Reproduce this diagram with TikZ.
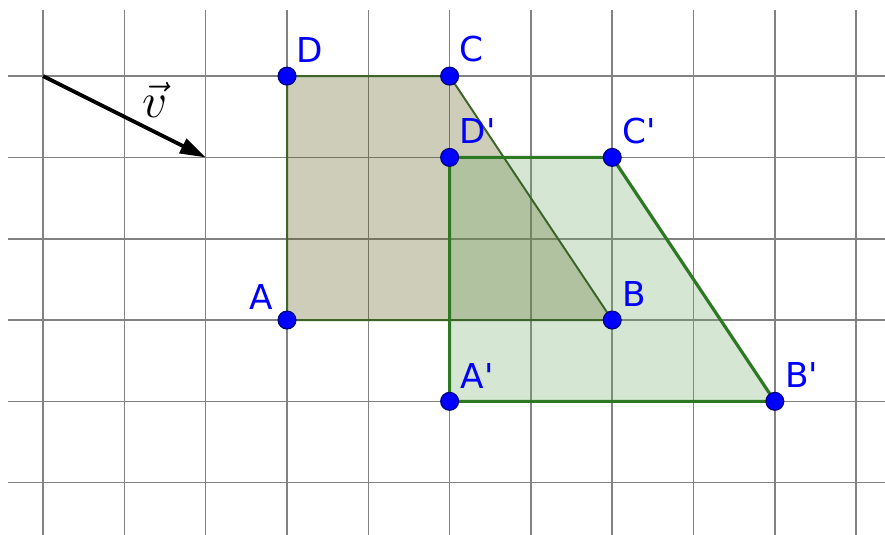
\documentclass[tikz,border=0pt]{standalone}
\usepackage{fontspec}
\newfontfamily\ptfont{DejaVu Sans}
\usepackage{xcolor}
\usetikzlibrary{arrows.meta}
\definecolor{gridgray}{RGB}{130,130,130}
\definecolor{oldfill}{RGB}{88,88,22}
\definecolor{oldedge}{RGB}{60,100,40}
\definecolor{newfill}{RGB}{115,172,105}
\definecolor{newedge}{RGB}{45,120,35}
\tikzstyle{pt}=[circle, draw=blue!50!black, fill=blue, line width=0.4pt, minimum size=0.22cm, inner sep=0pt]
\tikzstyle{lbl}=[text=blue, font=\ptfont\fontsize{12pt}{14pt}\selectfont, inner sep=1pt]

\begin{document}
\begin{tikzpicture}

\tikzset{every label/.style={lbl}}
\tikzset{gridline/.style={gridgray, line width=0.55pt}}

% Frame
\useasboundingbox (-3.53,-2.64) rectangle (7.355,3.936);

% Grid
\foreach \x in {-3,...,7} {
    \draw[gridline] (\x,-2.64) -- (\x,3.81);
}
\foreach \y in {-2,...,3} {
    \draw[gridline] (-3.43,\y) -- (7.355,\y);
}

% Points
\coordinate (A) at (0,0);
\coordinate (B) at (4,0);
\coordinate (C) at (2,3);
\coordinate (D) at (0,3);
\coordinate (A1) at (2,-1);
\coordinate (B1) at (6,-1);
\coordinate (C1) at (4,2);
\coordinate (D1) at (2,2);

% Polygons
\fill[oldfill, fill opacity=0.3] (A) -- (B) -- (C) -- (D) -- cycle;
\fill[newfill, fill opacity=0.3] (A1) -- (B1) -- (C1) -- (D1) -- cycle;
\draw[oldedge, line width=0.7pt, line join=round] (A) -- (B) -- (C) -- (D) -- cycle;
\draw[newedge, line width=1.1pt, line join=round] (A1) -- (B1) -- (C1) -- (D1) -- cycle;

% Vector
\coordinate (v0) at (-3,3);
\coordinate (v1) at (-1,2);
\draw[line width=1.3pt, -{Triangle[length=9pt, width=5.5pt]}] (v0) -- (v1);
\node (vlab) at (-1.62,2.71) {\fontsize{18pt}{20pt}\selectfont$\vec{v}$};

% Vertex dots
\node[pt, label={[label distance=1pt]145:A}] (pA) at (A) {};
\node[pt, label={[label distance=1pt]58:B}] (pB) at (B) {};
\node[pt, label={[label distance=1pt]58:C}] (pC) at (C) {};
\node[pt, label={[label distance=1pt]58:D}] (pD) at (D) {};
\node[pt, label={[label distance=1pt]52:A'}] (pA1) at (A1) {};
\node[pt, label={[label distance=1pt]55:B'}] (pB1) at (B1) {};
\node[pt, label={[label distance=1pt]57:C'}] (pC1) at (C1) {};
\node[pt, label={[label distance=1pt]57:D'}] (pD1) at (D1) {};

\end{tikzpicture}
\end{document}
